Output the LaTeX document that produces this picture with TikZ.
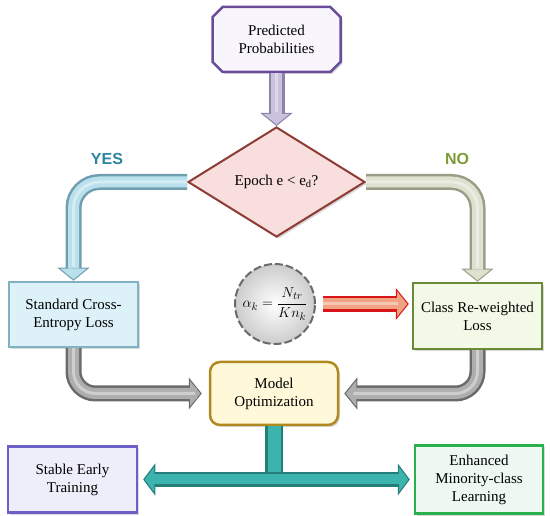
\documentclass[tikz,border=0pt]{standalone}
\usepackage{amsmath}
\usepackage{fontspec}
\setmainfont{Liberation Serif}
\newfontfamily\yesnofont{Liberation Sans}
\usetikzlibrary{shapes.geometric,shapes.misc,arrows.meta,shadows}

\definecolor{predline}{HTML}{6A4C9A}
\definecolor{predfill}{HTML}{F8F6FC}
\definecolor{lavfill}{HTML}{C9C1DD}
\definecolor{lavline}{HTML}{8C84A8}
\definecolor{decline}{HTML}{8E3B35}
\definecolor{decfill}{HTML}{F8DEDD}
\definecolor{yescol}{HTML}{2B85A0}
\definecolor{nocol}{HTML}{7A9B35}
\definecolor{cyanfill}{HTML}{B9E0EC}
\definecolor{cyanline}{HTML}{6F9FAF}
\definecolor{sagefill}{HTML}{DEE1CF}
\definecolor{sageline}{HTML}{9A9D86}
\definecolor{stdfill}{HTML}{DDF2F8}
\definecolor{stdline}{HTML}{7FB3C3}
\definecolor{crwfill}{HTML}{F3F9E7}
\definecolor{crwline}{HTML}{6A8A3A}
\definecolor{redfill}{HTML}{F0A383}
\definecolor{redline}{HTML}{D8161A}
\definecolor{grayfill}{HTML}{AEAEAE}
\definecolor{grayline}{HTML}{6A6A6A}
\definecolor{optfill}{HTML}{FFF9DA}
\definecolor{optline}{HTML}{B08A1E}
\definecolor{tealfill}{HTML}{3CB3AC}
\definecolor{tealline}{HTML}{237E79}
\definecolor{stablefill}{HTML}{EEEEFB}
\definecolor{stableline}{HTML}{6C5FC7}
\definecolor{enhfill}{HTML}{EDF8F2}
\definecolor{enhline}{HTML}{2BB04E}

\begin{document}
\begin{tikzpicture}[x=1pt,y=1pt,
  box/.style={draw, line width=2.5pt, align=center, inner sep=2pt,
    font=\fontsize{15}{18}\selectfont,
    drop shadow={opacity=0.3,shadow xshift=2pt,shadow yshift=-2pt}},
  yesno/.style={font=\yesnofont\bfseries\fontsize{16}{18}\selectfont},
  fatarrow/.style 2 args={line width=16pt, draw=#1,
    -{Triangle[length=13pt,width=32pt,fill=#2,line width=1pt]},
    postaction={draw=#2, line width=11pt, -, shorten >=12pt},
    postaction={draw=white, opacity=0.4, line width=3pt, -, shorten >=14pt}},
  fatbar/.style 2 args={line width=15pt, draw=#1,
    {Triangle[length=12pt,width=32pt,fill=#2,line width=1pt]}-{Triangle[length=12pt,width=32pt,fill=#2,line width=1pt]},
    postaction={draw=#2, line width=10pt, -, shorten >=15pt, shorten <=16pt}},
  fatstem/.style 2 args={line width=18pt, draw=#1,
    postaction={draw=#2, line width=13pt}}]
\useasboundingbox (0,0) rectangle (550,-516);

\node[box, chamfered rectangle, chamfered rectangle xsep=7pt, draw=predline, fill=predfill,
  minimum width=128pt, minimum height=65pt] (pred) at (276.5,-39.5) {Predicted\\Probabilities};
\node[box, diamond, draw=decline, fill=decfill, line width=2pt, inner sep=0pt,
  minimum width=177pt, minimum height=110pt] (dec) at (276.5,-182) {Epoch e < e\textsubscript{d}?};
\node[yesno, text=yescol] (yes) at (107,-159) {YES};
\node[yesno, text=nocol] (no) at (457,-159) {NO};
\node[box, draw=stdline, fill=stdfill, minimum width=129pt, minimum height=65pt]
  (std) at (73.5,-314.5) {Standard Cross-\\Entropy Loss};
\node[box, draw=crwline, fill=crwfill, minimum width=129pt, minimum height=66pt]
  (crw) at (477.5,-316) {Class Re-weighted\\Loss};
\node[circle, draw=grayline, dashed, dash pattern=on 8pt off 3pt, line width=2pt,
  inner color=white, outer color=gray!40, minimum size=80pt, inner sep=0pt,
  font=\fontsize{15}{18}\selectfont] (alpha) at (275,-304) {$\alpha_k=\dfrac{N_{tr}}{Kn_k}$};
\node[box, rounded corners=10pt, draw=optline, fill=optfill, minimum width=128pt, minimum height=63pt]
  (opt) at (274,-393.5) {Model\\Optimization};
\node[box, draw=stableline, fill=stablefill, minimum width=129pt, minimum height=66pt]
  (stable) at (72.5,-479.5) {Stable Early\\Training};
\node[box, draw=enhline, fill=enhfill, minimum width=128pt, minimum height=68pt]
  (enh) at (479,-479.5) {Enhanced\\Minority-class\\Learning};

\draw[fatarrow={lavline}{lavfill}] (pred.south) -- (dec.north);
\draw[fatarrow={cyanline}{cyanfill}, rounded corners=26pt] (dec.west) -| (std.north);
\draw[fatarrow={sageline}{sagefill}, rounded corners=26pt] (dec.east) -| (crw.north);
\draw[fatarrow={redline}{redfill}, shorten <=7pt, shorten >=3pt] (alpha.east) -- (alpha.east -| crw.west);
\draw[fatarrow={grayline}{grayfill}, rounded corners=22pt, shorten >=7pt] (std.south) |- (opt.west);
\draw[fatarrow={grayline}{grayfill}, rounded corners=22pt, shorten >=5pt] (crw.south) |- (opt.east);
\draw[fatstem={tealline}{tealfill}] (opt.south) -- (opt.south |- stable.east);
\draw[fatbar={tealline}{tealfill}, shorten <=5pt, shorten >=4pt] (stable.east) -- (enh.west);
\end{tikzpicture}
\end{document}
